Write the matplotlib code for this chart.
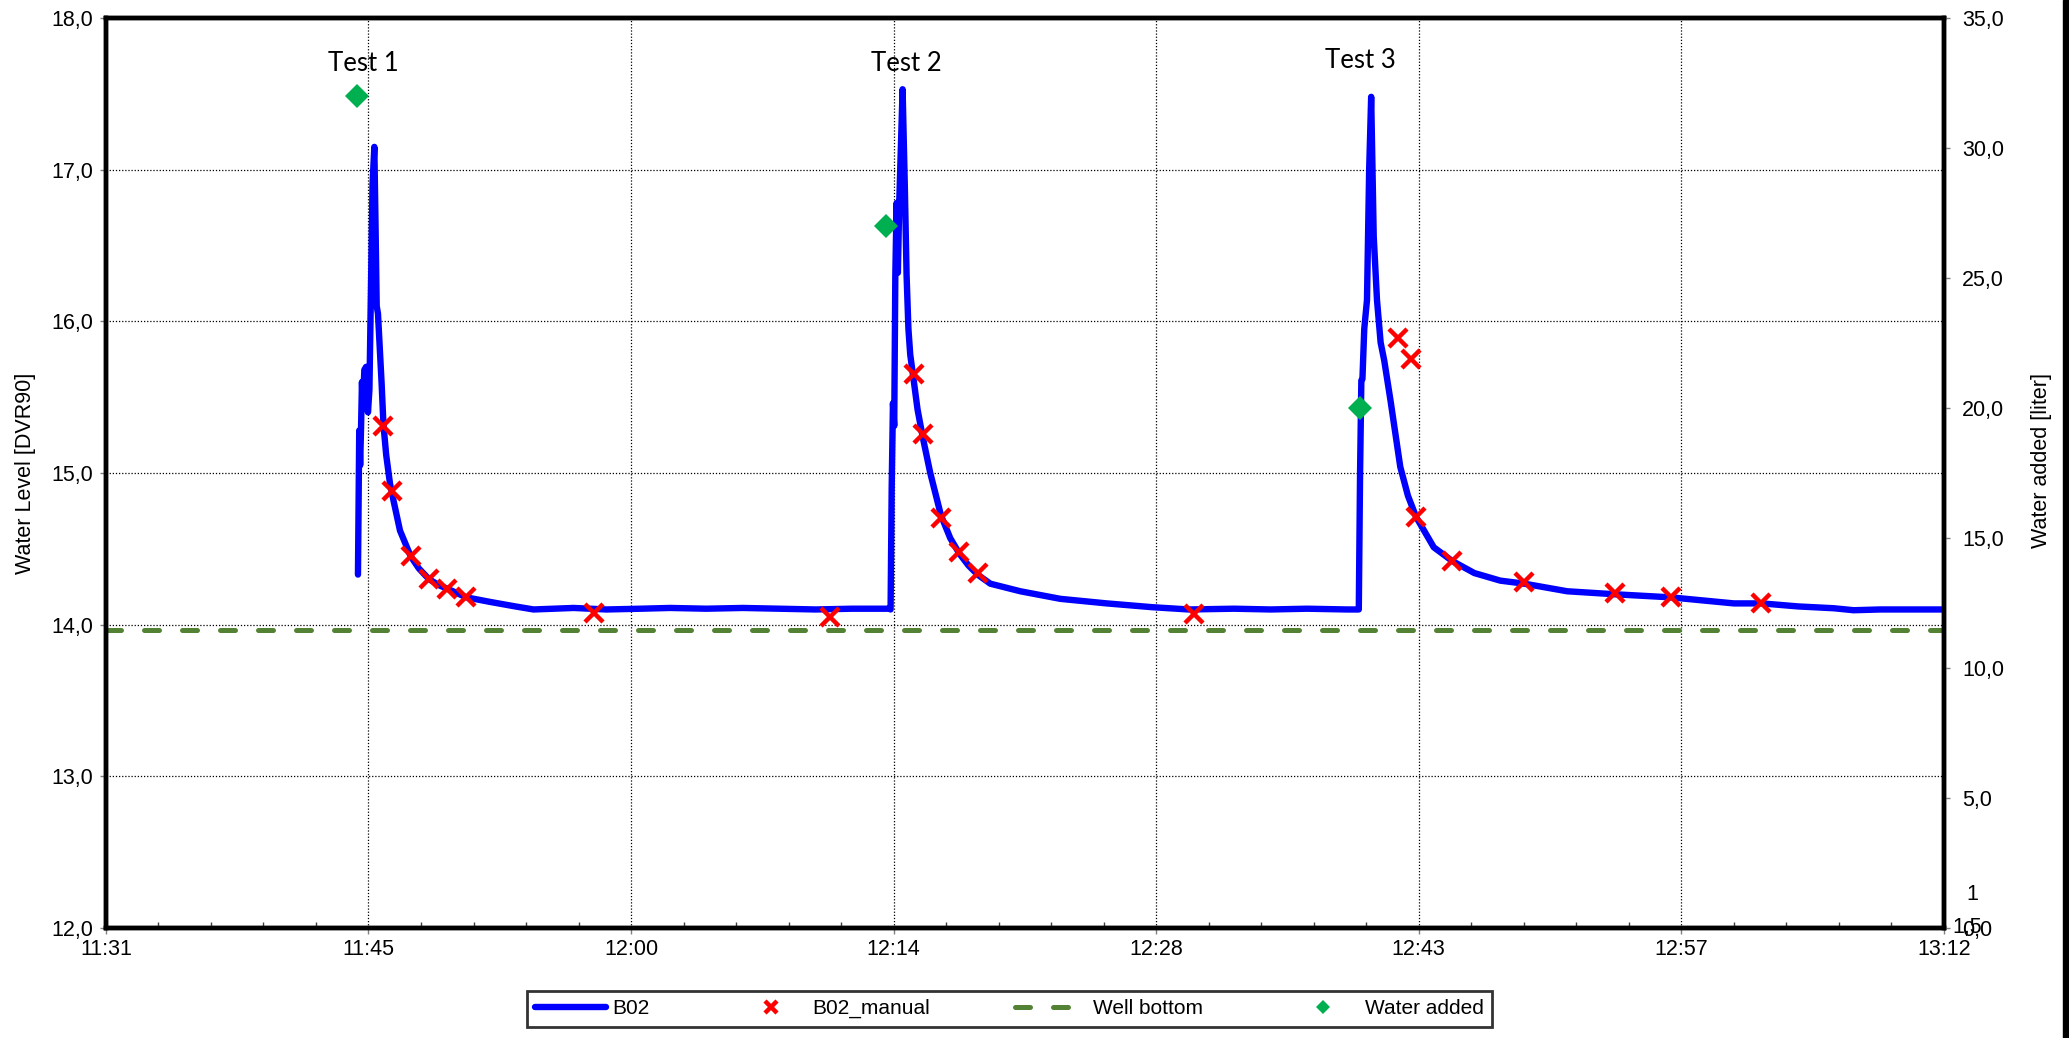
import numpy as np
import matplotlib.pyplot as plt
from matplotlib.patches import Rectangle
from matplotlib.ticker import AutoMinorLocator

plt.rcParams['font.family'] = ['Liberation Sans', 'DejaVu Sans']

# time axis: minutes after 11:31
time_labels = ['11:31', '11:45', '12:00', '12:14', '12:28', '12:43', '12:57', '13:12']
t_end = 101.0

# logger record B02 (minutes, water level DVR90)
b02_t = [13.85, 13.92, 13.97, 14.02, 14.07, 14.12, 14.20, 14.30, 14.40, 14.48,
         14.55, 14.65, 14.75, 14.82, 14.88, 14.95, 15.05, 15.15, 15.25, 15.40,
         15.61, 15.80, 16.16, 16.75, 17.20, 17.75, 18.30, 18.80, 19.80, 21.10,
         22.50, 23.50, 25.70, 27.50, 29.40, 31.0, 33.0, 35.0, 37.0, 39.0,
         41.0, 43.05,
         43.12, 43.18, 43.25, 43.32, 43.38, 43.45, 43.52, 43.60, 43.78, 43.90,
         44.00, 44.10, 44.20, 44.38, 44.60, 44.88, 45.30, 45.89, 46.40, 46.89,
         47.40, 47.90, 48.60, 50.25, 52.45, 55.0, 57.5, 59.5, 62.0, 64.0,
         66.0, 68.2,
         68.85, 68.92, 68.99, 69.05, 69.15, 69.30, 69.42, 69.53, 69.67, 69.85,
         70.05, 70.25, 70.59, 71.13, 71.55, 72.0, 72.97, 73.98, 75.2, 76.63,
         77.95, 80.3, 82.95, 85.98, 89.46, 91.0, 93.0, 94.96, 96.04, 97.5,
         99.0, 101.0]
b02_level = [14.33, 15.28, 15.05, 15.30, 15.60, 15.42, 15.68, 15.70, 15.40, 15.55,
             16.10, 16.90, 17.15, 16.60, 16.10, 16.05, 15.82, 15.59, 15.32, 15.12,
             14.93, 14.82, 14.62, 14.45, 14.37, 14.30, 14.26, 14.235, 14.18, 14.15,
             14.12, 14.10, 14.11, 14.10, 14.105, 14.11, 14.105, 14.11, 14.105, 14.10,
             14.105, 14.105,
             14.10, 14.90, 15.46, 15.31, 16.30, 16.78, 16.32, 16.80, 17.53, 16.90,
             16.30, 15.95, 15.78, 15.62, 15.42, 15.24, 15.00, 14.72, 14.57, 14.47,
             14.39, 14.33, 14.27, 14.22, 14.17, 14.14, 14.115, 14.10, 14.105, 14.10,
             14.105, 14.10,
             14.10, 15.00, 15.61, 15.62, 15.95, 16.14, 17.00, 17.48, 16.56, 16.14,
             15.86, 15.74, 15.48, 15.04, 14.85, 14.71, 14.51, 14.42, 14.34, 14.29,
             14.27, 14.22, 14.20, 14.18, 14.14, 14.14, 14.12, 14.108, 14.095, 14.10,
             14.10, 14.10]

# manual dip readings B02_manual
man_t = [15.25, 15.74, 16.75, 17.77, 18.77, 19.79, 26.83, 39.8,
         44.38, 44.88, 45.89, 46.89, 47.90, 59.8,
         71.0, 71.72, 72.0, 73.98, 77.95, 82.95, 85.98, 90.98]
man_level = [15.31, 14.88, 14.45, 14.30, 14.235, 14.18, 14.08, 14.05,
             15.65, 15.26, 14.70, 14.48, 14.34, 14.07,
             15.89, 15.75, 14.71, 14.42, 14.28, 14.21, 14.18, 14.145]

well_bottom = 13.965

# water added per test [liter]
water_t = [13.82, 42.88, 68.94]
water_l = [32.0, 27.0, 20.0]

test_names = ['Test 1', 'Test 2', 'Test 3']
test_t = [14.13, 44.0, 68.95]
test_y = [17.70, 17.70, 17.72]

left_ticks = [12.0, 13.0, 14.0, 15.0, 16.0, 17.0, 18.0]
right_ticks = [0.0, 5.0, 10.0, 15.0, 20.0, 25.0, 30.0, 35.0]


def comma(v):
    return f'{v:.1f}'.replace('.', ',')


fig = plt.figure(figsize=(20.69, 10.38), dpi=100)
ax = fig.add_axes([0.0512, 0.106, 0.8883, 0.8767])

l_b02, = ax.plot(b02_t, b02_level, color='#0000FF', lw=4.6,
                 solid_joinstyle='round', solid_capstyle='round', zorder=3, label='B02')
l_man, = ax.plot(man_t, man_level, ls='none', marker='x', ms=13.5, mew=3.2,
                 color='#FF0000', zorder=4, label='B02_manual')
l_well = ax.axhline(well_bottom, color='#548235', lw=3.6, ls=(0, (3, 4.6)),
                    dash_capstyle='round', zorder=2.5, label='Well bottom')

for name, x, y in zip(test_names, test_t, test_y):
    ax.text(x, y, name, ha='center', va='center', fontsize=18.5,
            family=['Lato', 'DejaVu Sans'])

ax.set_xlim(0, t_end)
ax.set_ylim(12, 18)
ax.set_xticks(np.linspace(0, t_end, len(time_labels)))
ax.set_xticklabels(time_labels)
ax.xaxis.set_minor_locator(AutoMinorLocator(5))
ax.set_yticks(left_ticks)
ax.set_yticklabels([comma(v) for v in left_ticks])
ax.grid(True, which='major', color='black', ls=(0, (1, 1.5)), lw=0.9)

ax.tick_params(axis='y', which='major', direction='out', length=4, width=1,
               color='#808080', labelsize=15.5, pad=5)
ax.tick_params(axis='x', which='major', direction='out', length=4, width=1,
               color='#808080', labelsize=15.5, pad=4)
ax.tick_params(axis='x', which='minor', direction='in', length=4, width=1, color='#404040')
ax.set_ylabel('Water Level [DVR90]', fontsize=15.5)
ax.yaxis.set_label_coords(-0.0380, 0.5)

ax2 = ax.twinx()
l_water, = ax2.plot(water_t, water_l, ls='none', marker='D', ms=12, mew=0,
                    color='#00B050', zorder=5, label='Water added')
ax2.set_ylim(0, 35)
ax2.set_yticks(right_ticks)
ax2.set_yticklabels([comma(v) for v in right_ticks])
ax2.tick_params(axis='y', direction='out', length=4, width=1, color='#808080',
                labelsize=15.5, pad=9)
ax2.set_ylabel('Water added [liter]', fontsize=15.5)
ax2.yaxis.set_label_coords(1.0474, 0.514)
ax2.annotate('1,5', xy=(1, 0.0), xycoords=('axes fraction', 'data'), xytext=(6, 0),
             textcoords='offset points', ha='left', va='center', fontsize=15.5)
ax2.annotate('1', xy=(1, 1.27), xycoords=('axes fraction', 'data'), xytext=(16.5, 0),
             textcoords='offset points', ha='left', va='center', fontsize=15.5)

for a in (ax, ax2):
    for s in a.spines.values():
        s.set_linewidth(3.2)
        s.set_color('black')

leg = fig.legend([l_b02, l_man, l_well, l_water],
                 ['B02', 'B02_manual', 'Well bottom', 'Water added'],
                 loc='lower center', bbox_to_anchor=(0.488, 0.001), ncol=4,
                 frameon=True, fancybox=False, edgecolor='black', fontsize=15,
                 handlelength=3.4, handletextpad=0.3, columnspacing=4.1,
                 markerscale=0.6, borderpad=0.4)
leg.get_frame().set_linewidth(2)

fig.add_artist(Rectangle((2063 / 2069, 0), 6 / 2069, 1, transform=fig.transFigure,
                         color='black'))

fig.savefig('out.png', dpi=100)
